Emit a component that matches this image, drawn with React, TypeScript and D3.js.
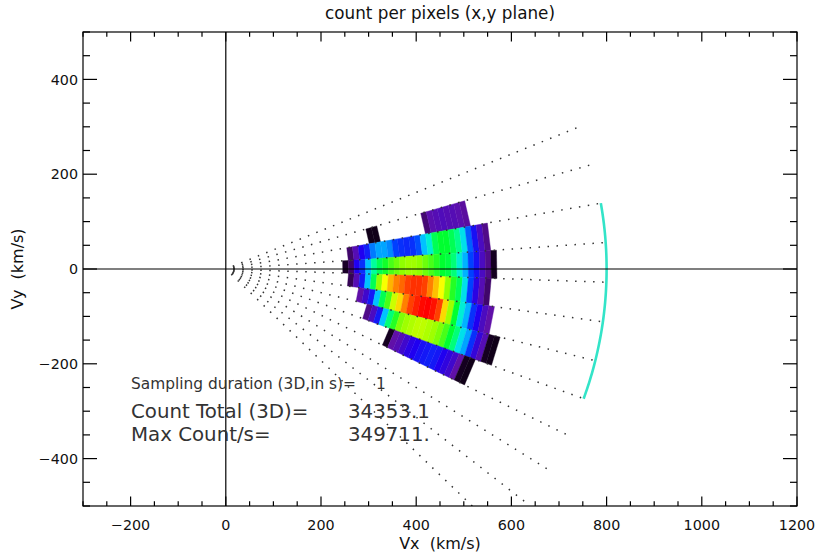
import React, { useEffect, useRef } from "react";
import * as d3 from "d3";

// velocity bin edges (km/s) used for the coloured wedge
const velocityEdges = [
  246, 258, 270, 282, 294, 306, 318, 330, 342, 354, 366, 378, 390, 402, 414,
  426, 438, 450, 462, 474, 486, 498, 510, 522, 534, 546, 558, 570, 582, 594,
];

// azimuth sector boundaries (deg), top ray first
const azimuthEdges = [22, 16, 10, 4, -2, -8, -14, -20, -26, -32, -38, -44];

// relative counts (fraction of max count) per velocity bin, one list per sector
const n = null;
const sector16to10 = [n, n, n, n, n, 0.03, 0.03, n, n, n, n, n, n, n, n, 0.13, 0.19, 0.2, 0.21, 0.2, 0.2, 0.19, 0.17, n, n, n, n, n, n];
const sector10to4 = [n, 0.12, 0.2, 0.3, 0.34, 0.42, 0.45, 0.45, 0.43, 0.38, 0.36, 0.35, 0.36, 0.39, 0.47, 0.52, 0.6, 0.62, 0.62, 0.6, 0.57, 0.5, 0.4, 0.32, 0.22, 0.15, n, n, n];
const sector4toM2 = [0.05, 0.12, 0.3, 0.36, 0.47, 0.56, 0.6, 0.63, 0.66, 0.68, 0.7, 0.71, 0.71, 0.7, 0.68, 0.66, 0.64, 0.62, 0.61, 0.58, 0.52, 0.46, 0.38, 0.32, 0.22, 0.15, 0.04, n, n];
const sectorM2toM8 = [n, 0.1, 0.2, 0.33, 0.47, 0.6, 0.7, 0.77, 0.83, 0.87, 0.89, 0.92, 0.94, 0.94, 0.92, 0.87, 0.82, 0.77, 0.7, 0.64, 0.6, 0.5, 0.38, 0.28, 0.2, 0.12, n, n, n];
const sectorM8toM14 = [n, n, n, 0.18, 0.24, 0.33, 0.47, 0.6, 0.66, 0.74, 0.8, 0.87, 0.92, 0.96, 0.99, 1.0, 0.98, 0.92, 0.8, 0.71, 0.62, 0.52, 0.46, 0.36, 0.3, 0.22, 0.18, n, n];
const sectorM14toM20 = [n, n, n, n, n, 0.15, 0.22, 0.33, 0.47, 0.58, 0.64, 0.69, 0.71, 0.72, 0.73, 0.73, 0.72, 0.71, 0.69, 0.66, 0.62, 0.58, 0.5, 0.45, 0.36, 0.26, 0.2, 0.04, 0.03];
const sectorM20toM26 = [n, n, n, n, n, n, n, n, n, n, 0.04, 0.18, 0.2, 0.24, 0.28, 0.3, 0.32, 0.33, 0.34, 0.33, 0.3, 0.27, 0.24, 0.18, 0.04, 0.03, n, n, n];

// sector index (into azimuthEdges) -> counts
const sectorCounts: [number, (number | null)[]][] = [
  [1, sector16to10],
  [2, sector10to4],
  [3, sector4toM2],
  [4, sectorM2toM8],
  [5, sectorM8toM14],
  [6, sectorM14toM20],
  [7, sectorM20toM26],
];

// rainbow colour table
const colorStops = [0, 0.08, 0.18, 0.3, 0.38, 0.48, 0.54, 0.62, 0.7, 0.77, 0.84, 0.92, 1];
const colorRamp = ["#000000", "#2a0040", "#6010a8", "#2000f0", "#0040ff", "#00d0ff", "#00ffc0", "#00ff30", "#90ff00", "#f8ff00", "#ffa800", "#ff4000", "#ff0000"];

const rayLength = 800;
const arcRadius = 800;
const arcAngles = [10, -20];

const xMajorTicks = [-200, 0, 200, 400, 600, 800, 1000, 1200];
const yMajorTicks = [-400, -200, 0, 200, 400];

const annotationLabels = ["Sampling duration (3D,in s)=", "Count Total (3D)=", "Max Count/s="];
const annotationValues = ["1", "34353.1", "349711."];

const App: React.FC = () => {
  const svgRef = useRef<SVGSVGElement>(null);
  const width = 817;
  const height = 552;

  useEffect(() => {
    if (!svgRef.current) return;
    const root = d3.select(svgRef.current);
    root.selectAll("*").remove();

    const left = 83, right = 797, top = 32, bottom = 506;
    const x = d3.scaleLinear().domain([-300, 1200]).range([left, right]);
    const y = d3.scaleLinear().domain([-500, 500]).range([bottom, top]);
    const color = d3
      .scaleLinear<string>()
      .domain(colorStops)
      .range(colorRamp)
      .interpolate(d3.interpolateRgb)
      .clamp(true);

    const rad = Math.PI / 180;
    const polar = (r: number, a: number): [number, number] => [
      x(r * Math.cos(a * rad)),
      y(r * Math.sin(a * rad)),
    ];

    const svg = root.append("g").style("font-family", "'DejaVu Sans', sans-serif");

    root
      .append("defs")
      .append("clipPath")
      .attr("id", "plot-clip")
      .append("rect")
      .attr("x", left)
      .attr("y", top)
      .attr("width", right - left)
      .attr("height", bottom - top);

    const plot = svg.append("g").attr("clip-path", "url(#plot-clip)");

    // coloured cells
    const cells: { a0: number; a1: number; r0: number; r1: number; v: number }[] = [];
    sectorCounts.forEach(([s, counts]) => {
      counts.forEach((v, k) => {
        if (v == null) return;
        cells.push({
          a0: azimuthEdges[s],
          a1: azimuthEdges[s + 1],
          r0: velocityEdges[k],
          r1: velocityEdges[k + 1],
          v,
        });
      });
    });

    const line = d3.line();
    plot
      .selectAll("path.cell")
      .data(cells)
      .join("path")
      .attr("class", "cell")
      .attr("d", (d) =>
        line([polar(d.r0, d.a0), polar(d.r1, d.a0), polar(d.r1, d.a1), polar(d.r0, d.a1)]) + "Z"
      )
      .attr("fill", (d) => color(d.v))
      .attr("stroke", (d) => color(d.v))
      .attr("stroke-width", 0.4);

    // dotted sector rays
    plot
      .selectAll("line.ray")
      .data(azimuthEdges)
      .join("line")
      .attr("class", "ray")
      .attr("x1", x(0))
      .attr("y1", y(0))
      .attr("x2", (a) => polar(rayLength, a)[0])
      .attr("y2", (a) => polar(rayLength, a)[1])
      .attr("stroke", "#333")
      .attr("stroke-width", 1.5)
      .attr("stroke-dasharray", "1.5 7.5")
      .attr("stroke-dashoffset", 1.5);

    // cyan arc
    const arcPts = d3
      .range(arcAngles[0], arcAngles[1] - 0.01, -0.5)
      .map((a) => polar(arcRadius, a));
    plot
      .append("path")
      .attr("d", line(arcPts))
      .attr("fill", "none")
      .attr("stroke", "#33e4c8")
      .attr("stroke-width", 2.6);

    // zero lines
    plot
      .append("line")
      .attr("x1", x(0))
      .attr("x2", x(0))
      .attr("y1", top)
      .attr("y2", bottom)
      .attr("stroke", "#000")
      .attr("stroke-width", 1.2);
    plot
      .append("line")
      .attr("x1", left)
      .attr("x2", right)
      .attr("y1", y(0))
      .attr("y2", y(0))
      .attr("stroke", "#000")
      .attr("stroke-width", 1.2);

    // annotations
    const annY = [389, 418, 441];
    const annSize = [15.4, 19.8, 19.8];
    const valX = [376, 348, 348];
    annotationLabels.forEach((t, i) => {
      svg
        .append("text")
        .attr("x", 131)
        .attr("y", annY[i])
        .style("font-size", `${annSize[i]}px`)
        .attr("fill", "#333")
        .text(t);
      svg
        .append("text")
        .attr("x", valX[i])
        .attr("y", annY[i])
        .style("font-size", `${annSize[i]}px`)
        .attr("fill", "#333")
        .text(annotationValues[i]);
    });

    // frame
    svg
      .append("rect")
      .attr("x", left)
      .attr("y", top)
      .attr("width", right - left)
      .attr("height", bottom - top)
      .attr("fill", "none")
      .attr("stroke", "#000")
      .attr("stroke-width", 1.2);

    // ticks
    const xMinor = d3.range(-300, 1201, 50);
    const yMinor = d3.range(-500, 501, 50);
    const ticks = svg.append("g").attr("stroke", "#000").attr("stroke-width", 1.2);
    xMinor.forEach((v) => {
      const len = xMajorTicks.includes(v) ? 9.5 : 4.7;
      ticks.append("line").attr("x1", x(v)).attr("x2", x(v)).attr("y1", bottom).attr("y2", bottom - len);
      ticks.append("line").attr("x1", x(v)).attr("x2", x(v)).attr("y1", top).attr("y2", top + len);
    });
    yMinor.forEach((v) => {
      const len = yMajorTicks.includes(v) ? 14 : 7;
      ticks.append("line").attr("x1", left).attr("x2", left + len).attr("y1", y(v)).attr("y2", y(v));
      ticks.append("line").attr("x1", right).attr("x2", right - len).attr("y1", y(v)).attr("y2", y(v));
    });

    const fmt = (v: number) => (v < 0 ? "\u2212" + Math.abs(v) : String(v));

    svg
      .selectAll("text.xtick")
      .data(xMajorTicks)
      .join("text")
      .attr("class", "xtick")
      .attr("x", (d) => x(d))
      .attr("y", 530)
      .attr("text-anchor", "middle")
      .style("font-size", "14.3px")
      .attr("fill", "#111")
      .text(fmt);

    svg
      .selectAll("text.ytick")
      .data(yMajorTicks)
      .join("text")
      .attr("class", "ytick")
      .attr("x", 78)
      .attr("y", (d) => y(d))
      .attr("dy", "0.36em")
      .attr("text-anchor", "end")
      .style("font-size", "14.3px")
      .attr("fill", "#111")
      .text(fmt);

    // titles
    svg
      .append("text")
      .attr("x", (left + right) / 2)
      .attr("y", 19)
      .attr("text-anchor", "middle")
      .style("font-size", "16.8px")
      .attr("fill", "#111")
      .text("count per pixels (x,y plane)");

    svg
      .append("text")
      .attr("x", (left + right) / 2)
      .attr("y", 549)
      .attr("text-anchor", "middle")
      .style("font-size", "16px")
      .style("white-space", "pre")
      .attr("fill", "#111")
      .text("Vx  (km/s)");

    svg
      .append("text")
      .attr("transform", `translate(23, ${y(0)}) rotate(-90)`)
      .attr("text-anchor", "middle")
      .style("font-size", "16px")
      .style("white-space", "pre")
      .attr("fill", "#111")
      .text("Vy  (km/s)");
  }, []);

  return (
    <div style={{ position: "absolute", left: 0, top: 0, width, height, background: "#fff" }}>
      <svg ref={svgRef} width={width} height={height} style={{ display: "block" }}></svg>
    </div>
  );
};

export default App;
